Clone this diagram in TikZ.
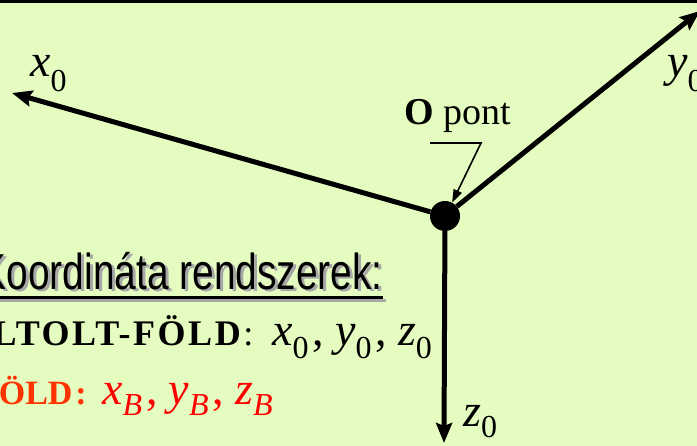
\documentclass[tikz,border=0pt]{standalone}
\usepackage{fontspec}
\setmainfont{Liberation Serif}
\newfontfamily\narrowsans[FakeStretch=0.77]{Liberation Sans}
\newfontfamily\spacedserif[LetterSpace=7]{Liberation Serif}
\usetikzlibrary{positioning, calc, arrows.meta}
\definecolor{Paper}{HTML}{E4FCC0}
\definecolor{Ink}{HTML}{000000}
\definecolor{Shade}{HTML}{A8A8A8}
\definecolor{Warm}{HTML}{FF3300}
\definecolor{Hot}{HTML}{FF0000}
\newcommand{\axisvar}[3][-13pt]{\textit{#2}\raisebox{#1}{\fontsize{32}{32}\selectfont #3}}
\newcommand{\sep}{\hspace{4pt},\hspace{11pt}}
\tikzset{
    axisline/.style={-{Stealth[length=20pt, width=16pt, inset=3pt]}, line width=5pt, color=Ink},
    origindot/.style={circle, fill=Ink, minimum size=30pt, inner sep=0pt},
    axislabel/.style={anchor=base west, inner sep=0pt, font=\fontsize{46}{46}\selectfont},
    leader/.style={-{Triangle[length=13pt, width=9pt]}, line width=1.6pt, color=Ink},
    boldlabel/.style={anchor=base east, inner sep=0pt, font=\fontsize{36}{36}\selectfont\spacedserif\bfseries},
    headlabel/.style={anchor=base east, inner sep=0pt, font=\fontsize{50.5}{50.5}\selectfont\narrowsans},
}

\begin{document}
\begin{tikzpicture}[x=1pt, y=-1pt]

    % --- Sfondo e cornice ---
    \fill[Paper] (0,0) rectangle (697,446);
    \useasboundingbox (0,0) rectangle (697,446);
    \clip (0,0) rectangle (697,446);
    \draw[line width=3pt, Ink] (0,1.5) -- (697,1.5);

    % --- Origine e assi ---
    \node[origindot] (O) at (445,216) {};
    \coordinate (xtip) at (12,93);
    \coordinate (ytip) at (700,11);
    \coordinate (ztip) at (444,443);
    \draw[axisline] (O) -- (xtip);
    \draw[axisline] (O) -- (ytip);
    \draw[axisline] (O) -- (ztip);

    \node[axislabel] (xlab) at (30,77) {\axisvar[-15pt]{x}{0}};
    \node[axislabel] (ylab) at (667,77) {\axisvar[-15pt]{y}{0}};
    \node[axislabel] (zlab) at (463,427) {\axisvar[-11pt]{z}{0}};

    % --- Etichetta del punto O ---
    \node[anchor=base west, inner sep=0pt, font=\fontsize{38}{38}\selectfont] (olab) at (404,125) {\textbf{O} pont};
    \coordinate (lstart) at (430,143);
    \coordinate (lbend) at (481,143);
    \draw[leader] (lstart) -- (lbend) -- (O.62);

    % --- Legenda (testo tagliato a sinistra) ---
    \node[headlabel, text=Shade] (hdrshadow) at (386,292) {Koordináta rendszerek:};
    \draw[line width=3pt, Shade] ([yshift=-9pt]hdrshadow.base west) -- ([yshift=-9pt]hdrshadow.base east);
    \node[headlabel] (hdr) at (383,290) {Koordináta rendszerek:};
    \draw[line width=3pt, Ink] ([yshift=-8pt]hdr.base west) -- ([yshift=-8pt]hdr.base east);

    \node[boldlabel] (eltolt) at (256,346) {ELTOLT-FÖLD\textmd{:}};
    \node[axislabel] (eltoltvars) at (272,346) {\axisvar{x}{0}\sep\axisvar{y}{0}\sep\axisvar{z}{0}};

    \node[boldlabel, text=Warm, font=\fontsize{34}{34}\selectfont\bfseries] (fold) at (87,405) {FÖLD\hspace{3pt}:};
    \node[axislabel, text=Hot] (foldvars) at (102,405) {\axisvar[-11pt]{x}{\textit{B}}\sep\axisvar[-11pt]{y}{\textit{B}}\sep\axisvar[-11pt]{z}{\textit{B}}};

\end{tikzpicture}
\end{document}
